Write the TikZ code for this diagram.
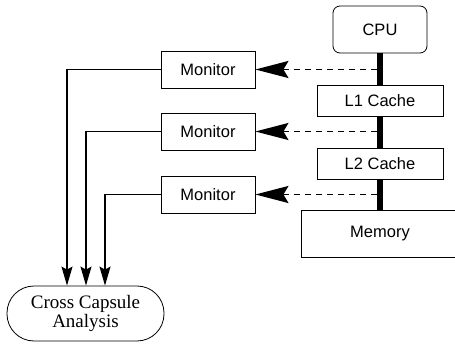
\documentclass[tikz,border=0pt]{standalone}
\usepackage{fontspec}
\setmainfont{Liberation Serif}
\setsansfont{Liberation Sans}
\usetikzlibrary{arrows.meta}
\begin{document}
\begin{tikzpicture}[x=1pt,y=1pt,
    unit/.style={draw, line width=0.8pt, inner sep=0pt,
      font=\sffamily\fontsize{16.5}{18}\selectfont},
    bus/.style={line width=6pt},
    snoop/.style={dash pattern=on 6pt off 5pt, line width=1.8pt,
      -{Stealth[length=33pt,width=17pt,inset=5pt]}},
    report/.style={line width=1.5pt, -{Stealth[length=19pt,width=11pt,inset=3pt]}}]
  \useasboundingbox (0,0) rectangle (455,343);

  % memory hierarchy
  \node[unit, rounded corners=7pt, minimum width=94, minimum height=47] (cpu) at (380,313.5) {CPU};
  \node[unit, minimum width=126, minimum height=31] (l1) at (380,242.5) {L1 Cache};
  \node[unit, minimum width=126, minimum height=31] (l2) at (380,179.5) {L2 Cache};
  \node[unit, minimum width=158, minimum height=47] (mem) at (380,109.5) {Memory};
  \draw[bus] (cpu.south) -- (l1.north);
  \draw[bus] (l1.south) -- (l2.north);
  \draw[bus] (l2.south) -- (mem.north);

  % monitors
  \node[unit, minimum width=94, minimum height=37] (mon1) at (208,273.5) {Monitor};
  \node[unit, minimum width=94, minimum height=37] (mon2) at (208,211.5) {Monitor};
  \node[unit, minimum width=94, minimum height=37] (mon3) at (208,148.5) {Monitor};

  \coordinate (tap1) at (377,273.5);
  \coordinate (tap2) at (377,211.5);
  \coordinate (tap3) at (377,148.5);
  \draw[snoop] (tap1) -- (mon1.east);
  \draw[snoop] (tap2) -- (mon2.east);
  \draw[snoop] (tap3) -- (mon3.east);

  % analysis
  \node[draw, line width=0.8pt, rounded corners=27pt, minimum width=157, minimum height=55,
    inner sep=0pt, align=center, font=\fontsize{19}{16.5}\selectfont] (cca) at (85.5,29.5)
    {Cross Capsule\\Analysis};

  \draw[report] (mon1.west) -| ([xshift=-18.5pt]cca.north);
  \draw[report] (mon2.west) -| ([xshift=0.5pt]cca.north);
  \draw[report] (mon3.west) -| ([xshift=19.5pt]cca.north);
\end{tikzpicture}
\end{document}
